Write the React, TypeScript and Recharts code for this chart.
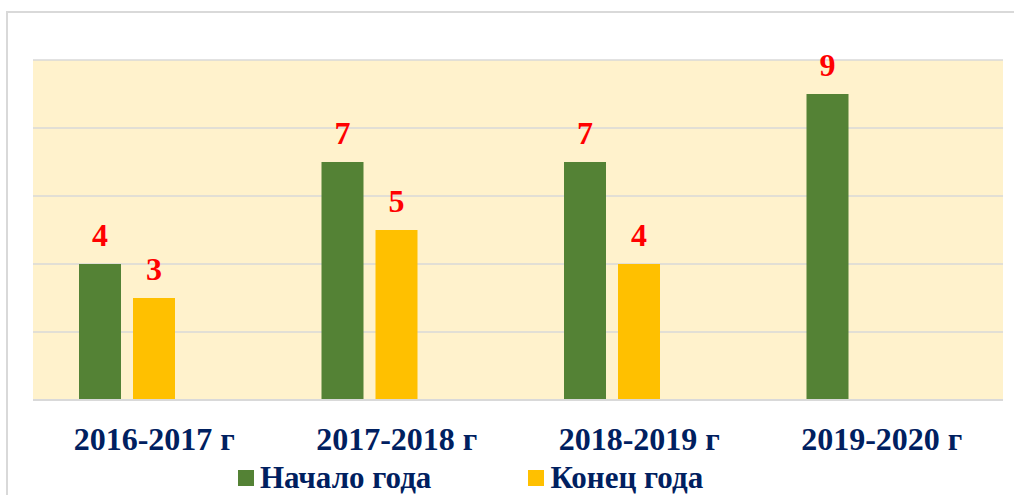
import React from 'react';
import { BarChart, Bar, XAxis, YAxis, CartesianGrid, LabelList, Legend } from 'recharts';

const categories = ['2016-2017 г', '2017-2018 г', '2018-2019 г', '2019-2020 г'];
const startOfYear: (number | null)[] = [4, 7, 7, 9];
const endOfYear: (number | null)[] = [3, 5, 4, null];
const hiddenSeries: (number | null)[] = [null, null, null, null];
const yTicks = [0, 2, 4, 6, 8, 10];

const seriesNames = ['Начало года', 'Конец года'];
const seriesColors = ['#548235', '#FFC000'];

const data = categories.map((c, i) => ({
  name: c,
  start: startOfYear[i],
  end: endOfYear[i],
  hidden: hiddenSeries[i],
}));

const FONT = '"Liberation Serif", "Times New Roman", serif';
const NAVY = '#002060';

const CustomLegend = () => (
  <div style={{ display: 'flex', alignItems: 'center', height: 35, paddingLeft: 238, fontFamily: FONT }}>
    {seriesNames.map((n, i) => (
      <div key={n} style={{ display: 'flex', alignItems: 'center', marginRight: 97 }}>
        <span style={{ display: 'inline-block', width: 16, height: 16, background: seriesColors[i], marginRight: 6 }} />
        <span style={{ color: NAVY, fontWeight: 'bold', fontSize: 31, lineHeight: '35px', whiteSpace: 'nowrap' }}>{n}</span>
      </div>
    ))}
  </div>
);

const labelStyle = { fill: '#FF0000', fontSize: 32, fontWeight: 'bold', fontFamily: FONT };

export default function App() {
  return (
    <div style={{ position: 'absolute', left: 0, top: 0, width: 1014, height: 495, overflow: 'hidden', background: '#fff' }}>
      <div style={{ position: 'absolute', left: 6, top: 11, width: 1100, height: 600, border: '2px solid #D9D9D9', boxSizing: 'border-box' }} />
      <div style={{ position: 'absolute', left: 0, top: 0 }}>
        <BarChart
          width={1014}
          height={495}
          data={data}
          margin={{ top: 60, right: 11, left: 33, bottom: 0 }}
          barSize={42}
          barGap={12}
        >
          <CartesianGrid vertical={false} stroke="#D9D9D9" strokeWidth={1.5} fill="#FFF2CC" fillOpacity={1} />
          <YAxis hide domain={[0, 10]} ticks={yTicks} width={0} />
          <XAxis
            dataKey="name"
            height={60}
            axisLine={{ stroke: '#D9D9D9', strokeWidth: 2 }}
            tickLine={false}
            tickMargin={21}
            tick={{ fill: NAVY, fontSize: 32, fontWeight: 'bold', fontFamily: FONT }}
            interval={0}
          />
          <Legend verticalAlign="bottom" content={<CustomLegend />} wrapperStyle={{ left: 0, width: 1014 }} />
          <Bar dataKey="start" fill={seriesColors[0]} isAnimationActive={false} name={seriesNames[0]}>
            <LabelList dataKey="start" position="top" offset={18} formatter={(v: any) => (v == null ? '' : v)} style={labelStyle} />
          </Bar>
          <Bar dataKey="end" fill={seriesColors[1]} isAnimationActive={false} name={seriesNames[1]}>
            <LabelList dataKey="end" position="top" offset={18} formatter={(v: any) => (v == null ? '' : v)} style={labelStyle} />
          </Bar>
          <Bar dataKey="hidden" fill="transparent" isAnimationActive={false} legendType="none" />
        </BarChart>
      </div>
    </div>
  );
}
